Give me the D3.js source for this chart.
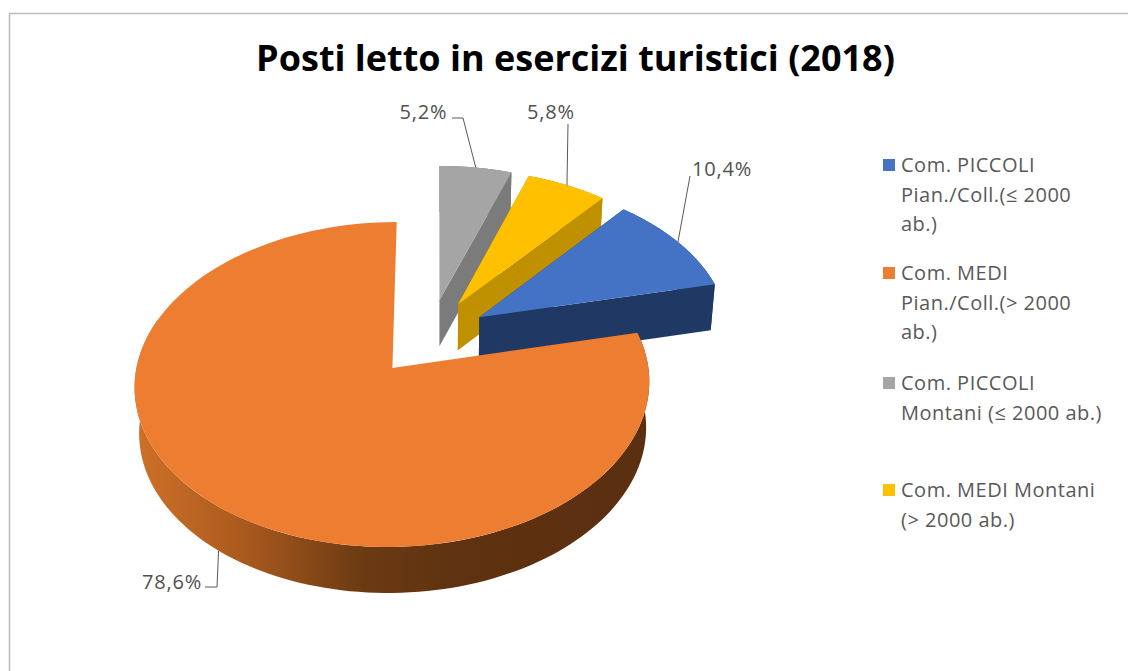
<!DOCTYPE html>
<html>
<head>
<meta charset="utf-8">
<script src="https://cdn.jsdelivr.net/npm/d3@7"></script>
<style>
	html, body { margin: 0; padding: 0; background: #fff; }
	svg { display: block; }
	text { font-family: "Open Sans", Lato, sans-serif; }
</style>
</head>
<body>
<div id="chart"></div>
<script>
var titleText = "Posti letto in esercizi turistici (2018)";
var categories = ["PICCOLI Pian./Coll.", "MEDI Pian./Coll.", "PICCOLI Montani", "MEDI Montani"];
var values = [10.4, 78.6, 5.2, 5.8];
var legendLines = [
	["Com. PICCOLI", "Pian./Coll.(≤ 2000", "ab.)"],
	["Com. MEDI", "Pian./Coll.(> 2000", "ab.)"],
	["Com. PICCOLI", "Montani (≤ 2000 ab.)"],
	["Com. MEDI Montani", "(> 2000 ab.)"]
];
var topColors = ["#4472c4", "#ed7d31", "#a5a5a5", "#ffc000"];
var wallColors = ["#1f3864", "url(#orangeWall)", "#7b7b7b", "#bf9000"];

var width = 1128, height = 671;
var pieCx = 439, pieCy = 368, scaleX = 256, scaleY = 160.8;
var tilt = 0.1015, depth = 46, explode = 0.249, explodeX = 0.94, axisShift = 0.182;

var svg = d3.select("#chart").append("svg")
	.attr("width", width)
	.attr("height", height);

// orange wall shading
var grad = svg.append("defs").append("linearGradient")
	.attr("id", "orangeWall")
	.attr("gradientUnits", "userSpaceOnUse")
	.attr("x1", 132).attr("x2", 648).attr("y1", 0).attr("y2", 0);
[[0, "#cf7128"], [0.2, "#ad5c1f"], [0.45, "#6b3a12"], [0.62, "#5f3310"], [0.85, "#5c3010"], [1, "#5a3010"]].forEach(function (s) {
	grad.append("stop").attr("offset", s[0]).attr("stop-color", s[1]);
});

// chart frame
svg.append("path")
	.attr("d", "M9.5," + height + "V13.5H" + width)
	.attr("fill", "none")
	.attr("stroke", "#bdbdbd")
	.attr("stroke-width", 1.5);

svg.append("text")
	.attr("x", 575.5)
	.attr("y", 71)
	.attr("text-anchor", "middle")
	.attr("font-size", 36)
	.attr("font-weight", 700)
	.attr("fill", "#000")
	.text(titleText);

var x = d3.scaleLinear().domain([-1, 1]).range([-scaleX, scaleX]);
var y = d3.scaleLinear().domain([-1, 1]).range([scaleY, -scaleY]);

// slices go clockwise, the largest one closes at 12 o'clock
var total = d3.sum(values);
var startAngle = 2 * Math.PI * (values[2] + values[3]) / total;
var slices = d3.pie().sort(null).startAngle(startAngle).endAngle(startAngle + 2 * Math.PI)(values);
slices.forEach(function (d) {
	d.mid = (d.startAngle + d.endAngle) / 2;
	d.ox = explode * explodeX * Math.sin(d.mid);
	d.oy = explode * Math.cos(d.mid);
});

// plane with perspective, anchored on the apex of the big slice
var anchor = slices[1];
function project(wx, wy) {
	var px = wx - anchor.ox - axisShift, py = wy - anchor.oy, w = 1 + tilt * py;
	return [pieCx + x(px) / w, pieCy + y(py) / w];
}
function rim(d, a) {
	return project(d.ox + Math.sin(a), d.oy + Math.cos(a));
}
function lower(p) {
	return [pieCx + (p[0] - pieCx) * 0.985, p[1] + depth];
}
function arcPoints(d, from, to) {
	return d3.range(0, 121).map(function (i) {
		return rim(d, from + (to - from) * i / 120);
	});
}

var line = d3.line();
var drawOrder = [2, 3, 0, 1];
var pieG = svg.append("g");

drawOrder.forEach(function (i) {
	var d = slices[i];
	var apex = project(d.ox, d.oy);
	var arc = arcPoints(d, d.startAngle, d.endAngle);
	// the big slice only shows its front wall
	var wallArc = i == 1 ? arcPoints(d, d.startAngle, 1.6 * Math.PI) : arc;
	if (i != 1) {
		[arc[0], arc[arc.length - 1]].forEach(function (p) {
			pieG.append("path")
				.attr("d", line([apex, p, lower(p), lower(apex)]) + "Z")
				.attr("fill", wallColors[i]);
		});
	}
	pieG.append("path")
		.attr("d", line(wallArc.concat(wallArc.map(lower).reverse())) + "Z")
		.attr("fill", wallColors[i]);
	pieG.append("path")
		.attr("d", line([apex].concat(arc)) + "Z")
		.attr("fill", topColors[i]);
});

// data labels with leader lines, start of each leader comes from its slice
var labelLayout = [
	{ x: 722, y: 176, elbow: [[690, 176]] },
	{ x: 172, y: 589, elbow: [[217, 587], [205, 587]] },
	{ x: 423.5, y: 119, elbow: [[463, 118], [452, 118]] },
	{ x: 551, y: 119, elbow: [[568, 124]] }
];
slices.forEach(function (d, i) {
	var start = rim(d, d.mid);
	if (i == 1) start = lower(start);
	svg.append("path")
		.attr("d", line([start].concat(labelLayout[i].elbow)))
		.attr("fill", "none")
		.attr("stroke", "#595959")
		.attr("stroke-width", 1);
	svg.append("text")
		.attr("x", labelLayout[i].x)
		.attr("y", labelLayout[i].y)
		.attr("text-anchor", "middle")
		.attr("font-size", 20)
		.attr("letter-spacing", 0.8)
		.attr("fill", "#505050")
		.text(String(values[i]).replace(".", ",") + "%");
});

// legend
var legendY = [165, 273, 383, 490];
var legend = svg.selectAll("g.legend")
	.data(categories)
	.enter().append("g")
	.attr("class", "legend")
	.attr("data-name", function (d) { return d; })
	.attr("transform", function (d, i) { return "translate(883," + legendY[i] + ")"; });
legend.append("rect")
	.attr("x", 0).attr("y", -6)
	.attr("width", 12).attr("height", 12)
	.attr("fill", function (d, i) { return topColors[i]; });
legend.each(function (d, i) {
	d3.select(this).selectAll("text")
		.data(legendLines[i])
		.enter().append("text")
		.attr("x", 18)
		.attr("y", function (t, j) { return 7 + j * 29.5; })
		.attr("font-size", 20)
		.attr("letter-spacing", 0.5)
		.attr("fill", "#595959")
		.text(function (t) { return t; });
});
</script>
</body>
</html>
